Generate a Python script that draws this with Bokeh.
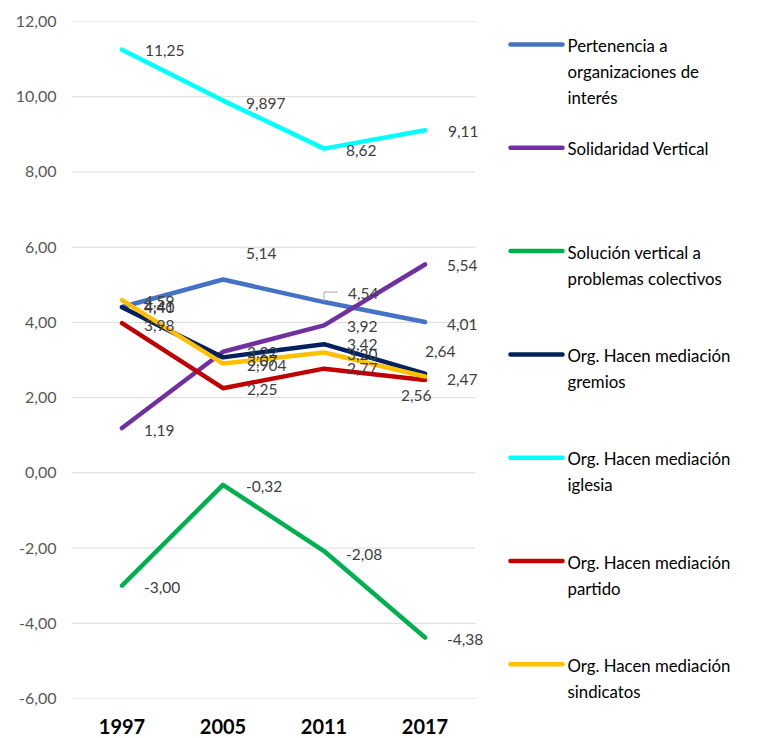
from bokeh.plotting import figure
from bokeh.models import ColumnDataSource, FixedTicker, Range1d
from bokeh.layouts import row
from bokeh.core.properties import value
from bokeh.embed import file_html
from bokeh.resources import INLINE

years = ["1997", "2005", "2011", "2017"]

pertenencia = [4.41, 5.14, 4.54, 4.01]
solidaridad = [1.19, 3.22, 3.92, 5.54]
solucion = [-3.00, -0.32, -2.08, -4.38]
gremios = [4.40, 3.07, 3.42, 2.64]
iglesia = [11.25, 9.897, 8.62, 9.11]
partido = [3.98, 2.25, 2.77, 2.47]
sindicatos = [4.59, 2.904, 3.20, 2.56]

series_labels = [
    ["Pertenencia a", "organizaciones de", "interés"],
    ["Solidaridad Vertical"],
    ["Solución vertical a", "problemas colectivos"],
    ["Org. Hacen mediación", "gremios"],
    ["Org. Hacen mediación", "iglesia"],
    ["Org. Hacen mediación", "partido"],
    ["Org. Hacen mediación", "sindicatos"],
]
series_values = [pertenencia, solidaridad, solucion, gremios, iglesia, partido, sindicatos]

y_ticks = [-6, -4, -2, 0, 2, 4, 6, 8, 10, 12]

# ---- styles ----
colors = ["#4472C4", "#7030A0", "#00B050", "#002060", "#00FFFF", "#C00000", "#FFC000"]
# data label offsets in screen pixels (dx right, dy down)
label_offsets = [
    [(22, 0), (23, -26), (24, -9), (22, 2)],
    [(22, 2), (24, 1), (23, 1), (22, 1)],
    [(22, 2), (23, 2), (22, 3), (22, 2)],
    [(22, 0), (24, 3), (23, 0), (0, -22)],
    [(23, 1), (23, 3), (22, 2), (23, 1)],
    [(22, 2), (24, 1), (23, 0), (22, 0)],
    [(22, 1), (24, 2), (23, 2), (-24, 19)],
]
# leader line (series index, point index) and its bend, in screen pixels
leader = (0, 2, 9, 14)

FONT = "Lato"
CAT_PX = 101          # pixels per category
FRAME_H = 677
EXTRA_RIGHT = 30      # room for labels right of the last category


def fmt(v):
    s = f"{v:.2f}" if abs(round(v, 2) - v) < 1e-9 else f"{v:.3f}"
    return s.replace(".", ",")


xs = list(range(len(years)))
x_lo, x_hi = -0.5, len(years) - 0.5
y_lo, y_hi = -6, 12

p = figure(frame_width=CAT_PX * len(years) + EXTRA_RIGHT, frame_height=FRAME_H,
           output_backend="svg", toolbar_location=None,
           x_range=Range1d(x_lo, x_hi + EXTRA_RIGHT / CAT_PX), y_range=Range1d(y_lo, y_hi),
           min_border_left=71, min_border_right=0, min_border_top=21, min_border_bottom=20)
p.outline_line_color = None
p.background_fill_color = "white"
p.border_fill_color = "white"
p.grid.grid_line_color = None

# horizontal gridlines limited to the category area
p.segment(x0=[x_lo] * len(y_ticks), x1=[x_hi] * len(y_ticks), y0=y_ticks, y1=y_ticks,
          line_color="#D9D9D9", line_width=1)

p.yaxis.ticker = FixedTicker(ticks=y_ticks)
p.yaxis.major_label_overrides = {t: f"{t:.2f}".replace(".", ",") for t in y_ticks}
p.yaxis.axis_line_color = None
p.yaxis.major_tick_line_color = None
p.yaxis.minor_tick_line_color = None
p.yaxis.major_label_text_font = FONT
p.yaxis.major_label_text_font_size = "16px"
p.yaxis.major_label_text_color = "#595959"
p.yaxis.major_label_standoff = 9

p.xaxis.ticker = FixedTicker(ticks=xs)
p.xaxis.major_label_overrides = {i: y for i, y in enumerate(years)}
p.xaxis.axis_line_color = None
p.xaxis.major_tick_line_color = None
p.xaxis.minor_tick_line_color = None
p.xaxis.major_label_text_font = FONT
p.xaxis.major_label_text_font_style = "bold"
p.xaxis.major_label_text_font_size = "20px"
p.xaxis.major_label_text_color = "#000000"
p.xaxis.major_label_standoff = 14

for vals, col in zip(series_values, colors):
    p.line(xs, vals, line_color=col, line_width=4.5, line_join="round", line_cap="round")

# leader line for one displaced label
si, pi, up_px, right_px = leader
px_y = (y_hi - y_lo) / FRAME_H
px_x = 1 / CAT_PX
lx0, ly0 = xs[pi], series_values[si][pi] + 1 * px_y
p.line([lx0, lx0, lx0 + right_px * px_x], [ly0, ly0 + up_px * px_y, ly0 + up_px * px_y],
       line_color="#A6A6A6", line_width=1)

lx, ly, lt, ldx, ldy = [], [], [], [], []
for vals, offs in zip(series_values, label_offsets):
    for i, v in enumerate(vals):
        lx.append(xs[i]); ly.append(v); lt.append(fmt(v))
        ldx.append(offs[i][0]); ldy.append(offs[i][1])
src = ColumnDataSource(dict(x=lx, y=ly, t=lt, dx=ldx, dy=ldy))
p.text(x="x", y="y", text="t", x_offset="dx", y_offset="dy", source=src,
       text_font=value(FONT), text_font_size="15.5px", text_color="#404040",
       text_align="left", text_baseline="middle")

# ---- legend panel (coordinates = page pixels) ----
LEG_X0 = 71 + CAT_PX * len(years) + EXTRA_RIGHT
LEG_W = 761 - LEG_X0
leg = figure(frame_width=LEG_W, frame_height=FRAME_H, output_backend="svg", toolbar_location=None,
             x_range=Range1d(LEG_X0, LEG_X0 + LEG_W), y_range=Range1d(21 + FRAME_H, 21),
             min_border_left=0, min_border_right=0, min_border_top=21, min_border_bottom=20)
leg.outline_line_color = None
leg.axis.visible = False
leg.grid.visible = False
entry_top = 44
entry_gap = 103.3
line_gap = 26
tx, ty, tt = [], [], []
for i, (lines, col) in enumerate(zip(series_labels, colors)):
    yy = entry_top + i * entry_gap
    leg.line([LEG_X0 + 5, LEG_X0 + 57], [yy, yy], line_color=col, line_width=4.5, line_cap="round")
    for j, s in enumerate(lines):
        tx.append(LEG_X0 + 62); ty.append(yy + j * line_gap + 1); tt.append(s)
leg.text(x=tx, y=ty, text=tt, text_font=value(FONT), text_font_size="16.8px",
         text_color="#000000", text_align="left", text_baseline="middle")

layout = row(p, leg)
open("out.html", "w").write(file_html(layout, INLINE))
